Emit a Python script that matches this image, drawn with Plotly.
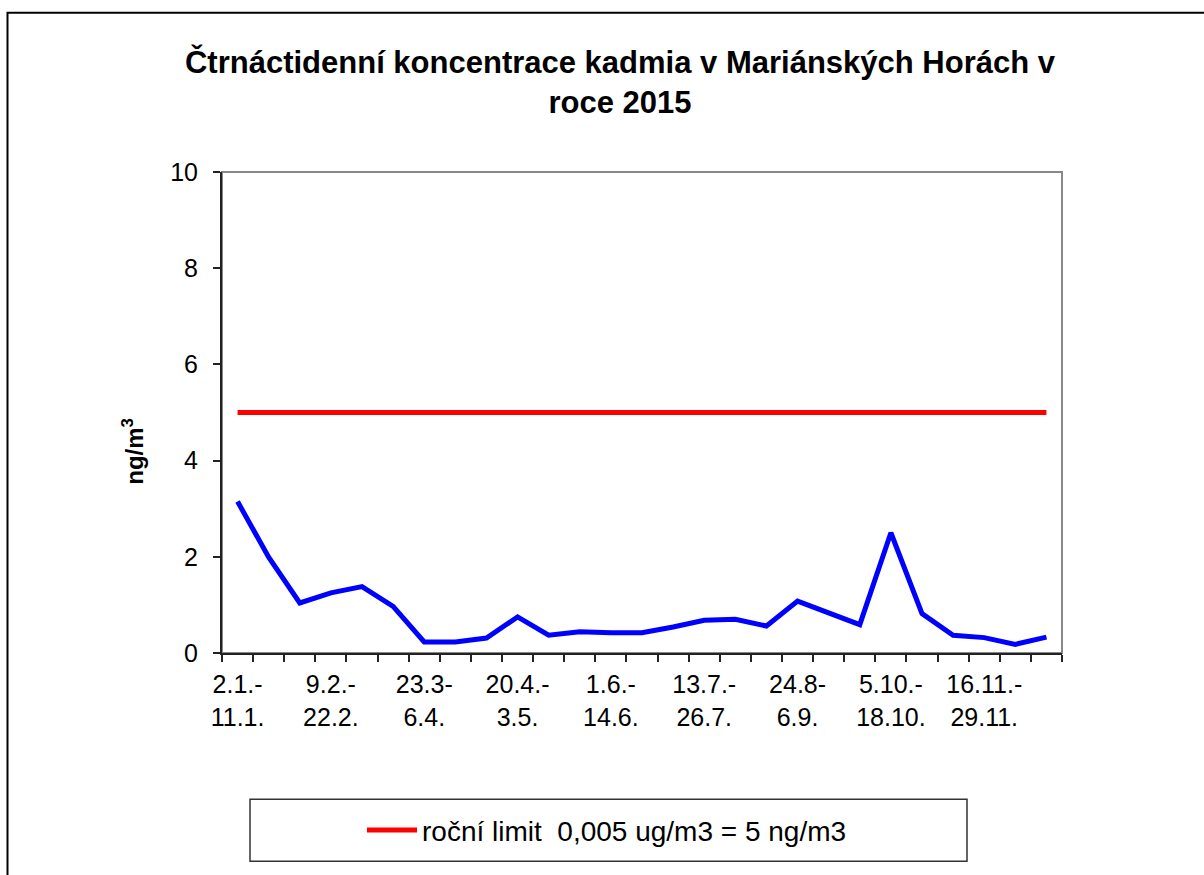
import plotly.graph_objects as go

# ---- data ----
periods = [
    "2.1.-11.1.", "12.1.-25.1.", "26.1.-8.2.", "9.2.-22.2.", "23.2.-8.3.",
    "9.3.-22.3.", "23.3-6.4.", "7.4.-12.4.", "13.4.-19.4.", "20.4.-3.5.",
    "4.5.-17.5.", "18.5.-31.5.", "1.6.-14.6.", "15.6.-28.6.", "29.6.-12.7.",
    "13.7.-26.7.", "27.7.-9.8.", "10.8.-23.8.", "24.8-6.9.", "7.9.-20.9.",
    "21.9.-4.10.", "5.10.-18.10.", "19.10.-1.11.", "2.11.-15.11.", "16.11.-29.11.",
    "30.11.-13.12.", "14.12.-27.12.",
]
cadmium = [3.15, 1.99, 1.04, 1.25, 1.38, 0.97, 0.23, 0.23, 0.31, 0.75,
           0.37, 0.44, 0.42, 0.42, 0.54, 0.68, 0.70, 0.56, 1.08, 0.83,
           0.59, 2.50, 0.82, 0.37, 0.32, 0.18, 0.33]
annual_limit = [5, 5, 5, 5, 5, 5, 5, 5, 5, 5, 5, 5, 5, 5, 5, 5, 5, 5, 5, 5,
                5, 5, 5, 5, 5, 5, 5]
y_ticks = [0, 2, 4, 6, 8, 10]
label_step = 3

title_text = "Čtrnáctidenní koncentrace kadmia v Mariánských Horách v<br>roce 2015"
limit_name = "roční limit  0,005 ug/m3 = 5 ng/m3"
y_title = "ng/m<sup>3</sup>"

# ---- build ----
idx = list(range(len(periods)))


def two_line(s):
    i = s.index("-")
    return s[: i + 1] + "<br>" + s[i + 1:]


tickvals = idx[::label_step]
ticktext = [two_line(periods[i]) for i in tickvals]
boundaries = [i - 0.5 for i in idx] + [idx[-1] + 0.5]

FONT = "Liberation Sans, Arial, sans-serif"

fig = go.Figure()
fig.add_trace(go.Scatter(
    x=idx, y=cadmium, mode="lines", name="kadmium",
    line=dict(color="#0000FF", width=5), showlegend=False,
    hovertext=periods,
))
fig.add_trace(go.Scatter(
    x=idx, y=annual_limit, mode="lines", name=limit_name,
    line=dict(color="#FF0000", width=5), showlegend=True,
))

L, T, W, H = 222, 172, 840, 481.5
B = T + H
fig.update_layout(
    width=1204, height=875,
    margin=dict(l=L, t=T, r=1204 - L - W, b=875 - B, autoexpand=False),
    paper_bgcolor="white", plot_bgcolor="white",
    font=dict(family=FONT, color="black"),
    title=dict(text=title_text, x=620 / 1204, xanchor="center",
               y=1 - 73 / 875, yanchor="middle",
               font=dict(family=FONT, size=31, color="black", weight="bold")),
    showlegend=True,
    legend=dict(orientation="h", x=(607 - L) / W, xanchor="center",
                y=-(831 - B) / H, yanchor="middle",
                bgcolor="rgba(0,0,0,0)", borderwidth=0,
                font=dict(family=FONT, size=28, color="black"),
                itemwidth=50),
    xaxis=dict(
        range=[-0.5, idx[-1] + 0.5], tickmode="array", tickvals=tickvals,
        ticktext=ticktext, ticks="", showgrid=False, zeroline=False,
        showline=True, linecolor="#222222", linewidth=2,
        tickfont=dict(family=FONT, size=25, color="black"),
        ticklabelstandoff=8,
        minor=dict(tickmode="array", tickvals=boundaries, ticks="outside",
                   ticklen=7, tickwidth=1.5, tickcolor="#222222", showgrid=False),
    ),
    yaxis=dict(
        range=[0, 10], tickmode="array", tickvals=y_ticks,
        ticks="outside", ticklen=7, tickwidth=1.5, tickcolor="#222222",
        showgrid=False, zeroline=False, showline=True,
        linecolor="#222222", linewidth=2,
        tickfont=dict(family=FONT, size=25, color="black"),
        ticklabelstandoff=10,
    ),
    annotations=[
        dict(text=y_title, xref="paper", yref="paper",
             x=(133 - L) / W, y=(B - 452) / H, xanchor="center", yanchor="middle",
             textangle=-90, showarrow=False,
             font=dict(family=FONT, size=24, color="black", weight="bold")),
    ],
    shapes=[
        # gray plot-area border (top/right)
        dict(type="rect", xref="paper", yref="paper", x0=0, y0=0, x1=1, y1=1,
             line=dict(color="#888888", width=2), layer="below"),
        # legend box
        dict(type="rect", xref="paper", yref="paper",
             x0=(250 - L) / W, x1=(967 - L) / W,
             y0=-(862 - B) / H, y1=-(800 - B) / H,
             line=dict(color="#333333", width=1.5), layer="below"),
        # outer chart frame (left + top visible)
        dict(type="rect", xref="paper", yref="paper",
             x0=(7.5 - L) / W, x1=(1230 - L) / W,
             y0=-(900 - B) / H, y1=(B - 12.5) / H,
             line=dict(color="black", width=2), layer="below"),
    ],
)

fig.write_html(
    "out.html",
    config={"displayModeBar": False},
    post_script="document.body.style.margin='0';document.body.style.padding='0';",
)
